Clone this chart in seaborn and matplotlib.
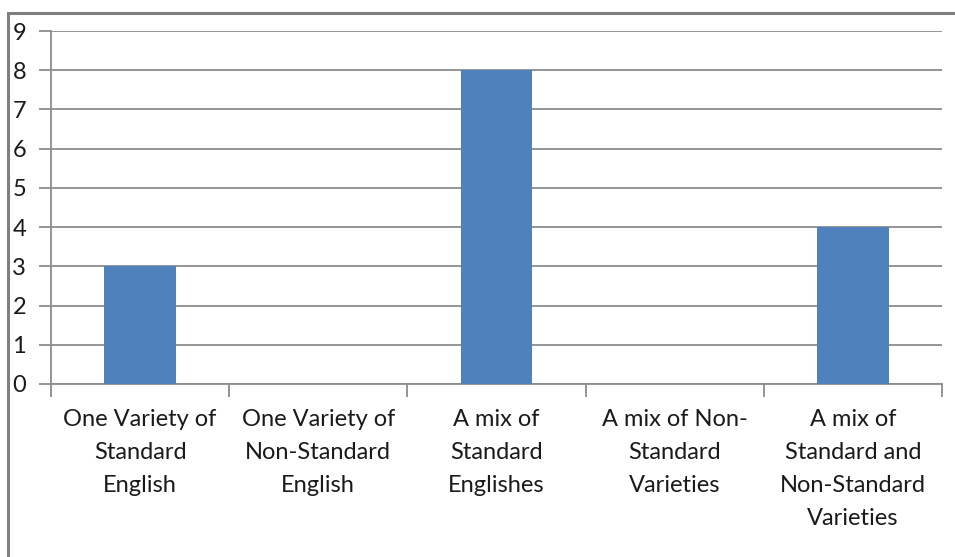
import matplotlib
matplotlib.use("Agg")
import matplotlib.pyplot as plt
import seaborn as sns
import pandas as pd
from matplotlib.patches import Rectangle

categories = [
    "One Variety of\nStandard\nEnglish",
    "One Variety of\nNon-Standard\nEnglish",
    "A mix of\nStandard\nEnglishes",
    "A mix of Non-\nStandard\nVarieties",
    "A mix of\nStandard and\nNon-Standard\nVarieties",
]
counts = [3, 0, 8, 0, 4]
y_ticks = list(range(0, 10))

sns.set_theme(style="white")
plt.rcParams["font.family"] = ["Lato", "DejaVu Sans"]

df = pd.DataFrame({"category": categories, "count": counts})

W, H = 955, 557
fig = plt.figure(figsize=(W / 100, H / 100), dpi=100)
ax = fig.add_axes([51 / W, 1 - 384 / H, (942 - 51) / W, (384 - 31) / H])

sns.barplot(data=df, x="category", y="count", color="#4F81BD", width=0.4,
            saturation=1, linewidth=0, ax=ax, zorder=3)

grid_c = "#8c8c8c"
ax.set_ylim(0, 9)
ax.set_xlim(-0.5, len(categories) - 0.5)
ax.set_yticks(y_ticks)
ax.set_yticklabels([str(v) for v in y_ticks], fontsize=17, color="#1a1a1a")
ax.yaxis.grid(True, color=grid_c, linewidth=1.3, zorder=0)
ax.set_axisbelow(True)

# category boundaries carry the tick marks, centers carry the labels
ax.set_xticks([i - 0.5 for i in range(len(categories) + 1)])
ax.set_xticklabels([])
ax.set_xticks(range(len(categories)), minor=True)
ax.set_xticklabels(categories, minor=True, fontsize=17, color="#1a1a1a",
                   linespacing=1.7, va="top")
ax.tick_params(axis="x", which="major", direction="out", length=9,
               width=1.3, color=grid_c, bottom=True)
ax.tick_params(axis="x", which="minor", length=0, pad=18)
ax.tick_params(axis="y", which="major", direction="out", length=9,
               width=1.3, color=grid_c, left=True, pad=9)
ax.set_xlabel("")
ax.set_ylabel("")

for side in ["top", "right"]:
    ax.spines[side].set_visible(False)
for side in ["left", "bottom"]:
    ax.spines[side].set_color(grid_c)
    ax.spines[side].set_linewidth(1.3)

# chart frame around the whole figure
fig.patches.append(Rectangle((8 / W, -0.1), 1.2, 1 - 13 / H + 0.1,
                             transform=fig.transFigure, fill=False,
                             edgecolor="#7f7f7f", linewidth=2.2))

fig.savefig("out.png", dpi=100)
